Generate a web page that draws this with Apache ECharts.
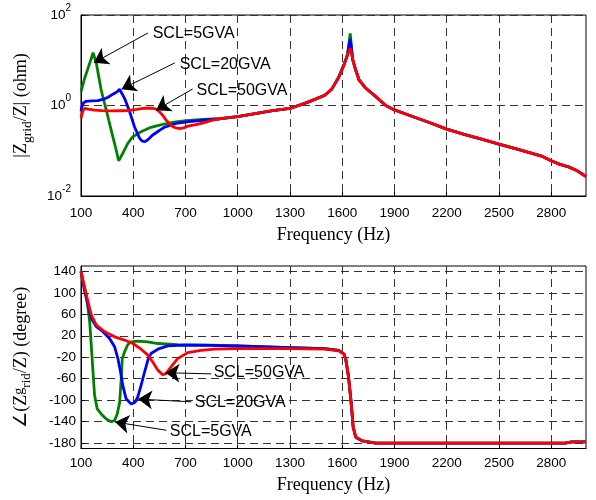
<!DOCTYPE html>
<html><head><meta charset="utf-8">
<script src="https://cdn.jsdelivr.net/npm/echarts@6/dist/echarts.min.js"></script>
<style>html,body{margin:0;padding:0;background:#fff}#c{width:596px;height:500px}</style>
</head><body><div id="c"></div>
<script>
// ---------- data ----------
const seriesNames = ['SCL=5GVA', 'SCL=20GVA', 'SCL=50GVA'];
const xTicks = [100, 400, 700, 1000, 1300, 1600, 1900, 2200, 2500, 2800];
const magTicks = [0.01, 1, 100];
const phTicks = [-180, -140, -100, -60, -20, 20, 60, 100, 140];

// |Zgrid/Z| (ohm), low-frequency part per series
const mag5Freq = [100,110,120,140,160,169,178,188,200,216,230,245,260,273,288,302,316,328,340,355,369,383,398,420,445,470,502,540,579,620,655,720,800];
const mag5 = [2.02,2.8,3.9,6.6,11.2,14.7,11.5,8.6,4.8,2.2,1.34,0.80,0.46,0.29,0.17,0.104,0.060,0.072,0.088,0.114,0.146,0.173,0.204,0.23,0.263,0.29,0.33,0.36,0.39,0.42,0.44,0.47,0.49];
const mag20Freq = [100,105,115,130,160,197,230,255,275,293,310,321,335,350,365,379,393,407,422,436,450,465,480,493,510,531,555,579,620,655,720,770,850];
const mag20 = [0.75,0.95,1.15,1.24,1.27,1.28,1.38,1.52,1.7,1.86,2.05,2.28,1.85,1.44,1.02,0.73,0.5,0.34,0.25,0.19,0.165,0.158,0.17,0.19,0.22,0.25,0.29,0.33,0.37,0.41,0.44,0.46,0.49];
const mag50Freq = [100,110,121,140,178,220,273,320,369,420,465,512,535,550,570,588,610,627,645,665,690,713,760,808,850];
const mag50 = [0.52,0.75,0.87,0.83,0.79,0.77,0.76,0.765,0.77,0.82,0.87,0.87,0.82,0.73,0.6,0.48,0.39,0.34,0.32,0.31,0.32,0.35,0.38,0.42,0.47];
// common high-frequency part
const magTailFreq = [900,1000,1100,1200,1300,1400,1450,1500,1540,1580,1610,1630,1646,1660,1675,1697,1736,1793,1850,1900,2000,2100,2200,2300,2400,2500,2600,2700,2750,2800,2850,2900,2950,3000];
const magTail = [0.51,0.57,0.66,0.77,0.86,1.17,1.4,1.68,2.3,4.2,7.9,13,18.5,10.5,6.5,3.66,2.4,1.57,1.0,0.8,0.58,0.42,0.30,0.23,0.18,0.14,0.11,0.085,0.075,0.06,0.05,0.044,0.036,0.027];
const magPeakFreq = 1646;
const magPeak = [39, 30, 18.5];

// angle(Zgrid/Z) (degree)
const ph5Freq = [100,115,130,140,150,159,169,178,193,216,245,273,293,308,322,331,337,350,369,388,426,484,541,655,846,1000,1300,1500,1580];
const ph5 = [140,118,96,72,46,2.6,-47.5,-91,-116,-125.6,-135,-140,-138,-125.6,-104,-60,-22.5,-10,3.7,8.8,10,8.8,5.6,3.7,2.6,1,-2,-4,-7];
const ph20Freq = [100,110,121,140,159,188,226,264,293,312,327,340,359,388,411,426,445,465,484,502,541,598,694,850,1000,1300,1500,1580];
const ph20 = [140,122,102.5,77.5,52.5,37,27.5,15,-0.6,-22.5,-47.5,-72.5,-97.5,-107,-103.7,-94,-72.5,-47.5,-25.5,-13,-5,1.3,2.6,2,1,-2,-4,-7];
const ph50Freq = [100,110,121,140,159,188,236,293,350,398,445,484,512,541,569,588,617,655,713,789,865,1000,1300,1500,1580];
const ph50 = [140,124,108.8,83.8,58.8,40,27.5,18,12,5.6,-5,-16,-28.8,-44,-52.5,-50.6,-38,-22.5,-11.3,-7,-5,-4,-4,-5,-8];
const phTailFreq = [1610,1621,1636,1650,1663,1678,1716,1793,2000,2500,2880,2918,3000];
const phTail = [-14,-25,-56,-100,-150,-169,-176,-180,-180,-180,-180,-177.5,-177.5];

// annotations (data units): arrow tip, arrow tail, text anchor
const annTopTip = [[174, 8.8], [333, 2.3], [531, 0.79]];
const annTopTail = [[484, 40], [638, 8.7], [741, 2.32]];
const annTopText = [[506, 38], [661, 7.85], [758, 2.12]];
const annBotTip = [[295, -140.6], [428, -98], [585, -48.8]];
const annBotTail = [[590, -156], [734, -103], [848, -51]];
const annBotText = [[604, -158], [748, -104.3], [856, -48]];

// ---------- build ----------
const colors = ['#008000', '#0000ff', '#ff0000'];
const SANS = 'Liberation Sans, Arial, sans-serif';
const SERIF = 'Liberation Serif, Times New Roman, serif';

function zipPts(fs, vs) { return fs.map((f, i) => [f, vs[i]]); }
function magData(k) {
  const lowF = [mag5Freq, mag20Freq, mag50Freq][k];
  const lowV = [mag5, mag20, mag50][k];
  const tail = magTailFreq.map((f, i) => [f, f === magPeakFreq ? magPeak[k] : magTail[i]]);
  return zipPts(lowF, lowV).concat(tail);
}
function phData(k) {
  const lowF = [ph5Freq, ph20Freq, ph50Freq][k];
  const lowV = [ph5, ph20, ph50][k];
  return zipPts(lowF, lowV).concat(zipPts(phTailFreq, phTail));
}
function annot(tip, tail, txt, k) {
  return {
    markLine: {
      silent: true, animation: false,
      symbol: ['none', 'arrow'], symbolSize: 14,
      label: { show: false },
      lineStyle: { color: '#000', width: 1, type: 'solid' },
      itemStyle: { color: '#000' },
      emphasis: { disabled: true },
      data: [[{ coord: tail[k] }, { coord: tip[k] }]]
    },
    markPoint: {
      silent: true, animation: false,
      symbol: 'circle', symbolSize: 0,
      label: { show: true, position: 'right', distance: 1, formatter: seriesNames[k],
        color: '#000', fontSize: 16, fontFamily: SANS },
      data: [{ coord: txt[k] }]
    }
  };
}

const series = [];
[0, 1, 2].forEach(k => {
  series.push(Object.assign({
    name: seriesNames[k], type: 'line', xAxisIndex: 0, yAxisIndex: 0,
    data: magData(k), showSymbol: false, symbol: 'none', smooth: false,
    lineStyle: { color: colors[k], width: 2.8 }, z: 2 + k
  }, annot(annTopTip, annTopTail, annTopText, k)));
});
[0, 1, 2].forEach(k => {
  series.push(Object.assign({
    name: seriesNames[k], type: 'line', xAxisIndex: 1, yAxisIndex: 1,
    data: phData(k), showSymbol: false, symbol: 'none', smooth: false,
    lineStyle: { color: colors[k], width: 2.8 }, z: 2 + k
  }, annot(annBotTip, annBotTail, annBotText, k)));
});

const gridLine = { show: true, lineStyle: { color: '#333', width: 1, type: [8, 5] } };
function xAx(idx, margin, gap) {
  return {
    gridIndex: idx, type: 'value', min: 100, max: 3000, interval: 300,
    name: 'Frequency (Hz)', nameLocation: 'middle', nameGap: gap,
    nameTextStyle: { fontFamily: SERIF, fontSize: 18, color: '#000' },
    axisLine: { show: true, onZero: false, lineStyle: { color: '#000', width: 1 } },
    axisTick: { show: true, inside: true, length: 4, lineStyle: { color: '#000' }, customValues: xTicks },
    axisLabel: { fontFamily: SANS, fontSize: 13.5, color: '#000', margin: margin,
      customValues: xTicks, formatter: v => String(v) },
    splitLine: gridLine
  };
}

const option = {
  animation: false,
  backgroundColor: '#fff',
  grid: [
    { left: 81, top: 15, width: 505, height: 181, show: true, borderColor: '#000', borderWidth: 1, backgroundColor: 'transparent' },
    { left: 81, top: 266, width: 505, height: 182.5, show: true, borderColor: '#000', borderWidth: 1, backgroundColor: 'transparent' }
  ],
  xAxis: [xAx(0, 10, 30), xAx(1, 8, 28)],
  yAxis: [
    {
      gridIndex: 0, type: 'log', logBase: 100, min: 0.01, max: 100,
      name: '|Z{sub|grid}/Z| (ohm)', nameLocation: 'middle', nameGap: 47,
      nameTextStyle: { fontFamily: SERIF, fontSize: 18, color: '#000',
        rich: { sub: { fontFamily: SERIF, fontSize: 13.5, color: '#000', padding: [12, 0, 0, 0] } } },
      axisLine: { show: true, lineStyle: { color: '#000', width: 1 } },
      axisTick: { show: true, inside: true, length: 4, lineStyle: { color: '#000' } },
      axisLabel: {
        margin: 10, color: '#000',
        formatter: v => '{b|10}{sup|' + Math.round(Math.log10(v)) + '}',
        rich: {
          b: { fontFamily: SANS, fontSize: 13.5, color: '#000' },
          sup: { fontFamily: SANS, fontSize: 10, color: '#000', padding: [0, 0, 14, 0] }
        }
      },
      splitLine: gridLine
    },
    {
      gridIndex: 1, type: 'value', min: -190, max: 150,
      name: '\u2220(Z{sup|g}{sub|rid}/Z) (degree)', nameLocation: 'middle', nameGap: 48,
      nameTextStyle: { fontFamily: SERIF, fontSize: 18, color: '#000',
        rich: {
          sup: { fontFamily: SERIF, fontSize: 14, color: '#000', padding: [0, 0, 4, 0] },
          sub: { fontFamily: SERIF, fontSize: 13, color: '#000', padding: [10, 0, 0, 0] }
        } },
      axisLine: { show: true, lineStyle: { color: '#000', width: 1 } },
      axisTick: { show: true, inside: true, length: 4, lineStyle: { color: '#000' }, customValues: phTicks },
      axisLabel: { fontFamily: SANS, fontSize: 13.5, color: '#000', margin: 5, customValues: phTicks },
      splitLine: gridLine
    }
  ],
  series: series
};

const chart = echarts.init(document.getElementById('c'), null, { renderer: 'canvas' });
chart.setOption(option);
</script>
</body></html>
